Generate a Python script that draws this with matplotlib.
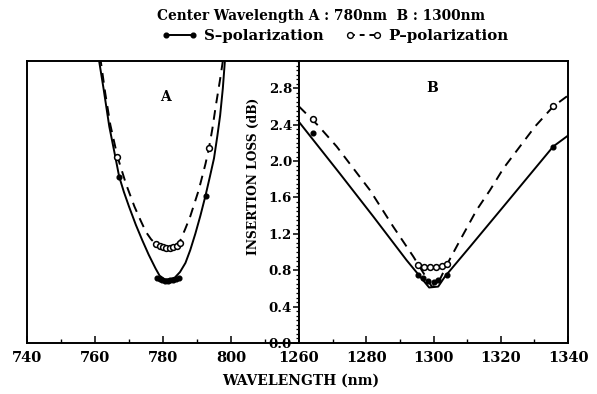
import matplotlib
matplotlib.use("Agg")
import matplotlib.pyplot as plt
from matplotlib.lines import Line2D
from matplotlib.ticker import MultipleLocator, FixedLocator

plt.rcParams['font.family'] = ['DejaVu Serif']
plt.rcParams['font.weight'] = 'bold'

# ---------------- Panel A (center 780 nm) ----------------
a_s_curve_x = [761.0, 762.5, 764.2, 765.8, 767.1, 768.5, 770.0, 772.0, 773.9, 775.8, 777.8,
               779.0, 780.5, 782.0, 783.5, 785.0, 786.6, 788.0, 789.5, 791.0, 792.5, 793.8,
               795.0, 796.0, 796.8, 797.6, 798.3]
a_s_curve_y = [3.15, 2.80, 2.38, 2.08, 1.83, 1.66, 1.50, 1.30, 1.13, 0.97, 0.82,
               0.74, 0.70, 0.70, 0.72, 0.78, 0.88, 1.02, 1.20, 1.40, 1.62, 1.83,
               2.03, 2.28, 2.50, 2.80, 3.15]
a_p_curve_x = [761.5, 763.0, 764.5, 766.6, 769.1, 771.6, 773.5, 775.0, 776.5, 777.8, 779.5,
               781.5, 783.5, 785.0, 786.5, 788.0, 790.5, 792.5, 793.5, 794.5, 795.5, 796.8, 797.8]
a_p_curve_y = [3.15, 2.75, 2.40, 2.05, 1.75, 1.50, 1.34, 1.22, 1.14, 1.09, 1.06,
               1.05, 1.07, 1.12, 1.25, 1.39, 1.68, 1.97, 2.14, 2.35, 2.60, 2.90, 3.15]
a_s_pts_x = [767.1, 778.2, 779.0, 779.8, 780.6, 781.4, 782.2, 783.0, 783.8, 784.6, 792.5]
a_s_pts_y = [1.83, 0.71, 0.70, 0.69, 0.68, 0.68, 0.69, 0.69, 0.70, 0.71, 1.62]
a_p_pts_x = [766.6, 778.0, 779.0, 780.0, 781.0, 782.0, 783.0, 784.0, 785.0, 793.5]
a_p_pts_y = [2.05, 1.09, 1.07, 1.05, 1.04, 1.04, 1.05, 1.07, 1.10, 2.14]

# ---------------- Panel B (center 1300 nm) ----------------
b_s_curve_x = [1260.0, 1272.2, 1282.1, 1292.0, 1298.7, 1301.4, 1303.4, 1310.9, 1320.8, 1335.6, 1340.0]
b_s_curve_y = [2.43, 1.86, 1.39, 0.91, 0.61, 0.62, 0.73, 1.06, 1.50, 2.16, 2.28]
b_p_curve_x = [1260.0, 1265.7, 1271.2, 1281.1, 1288.0, 1294.0, 1299.5, 1301.0, 1304.4, 1307.9,
               1312.8, 1316.8, 1320.8, 1325.7, 1330.2, 1335.6, 1340.0]
b_p_curve_y = [2.60, 2.39, 2.16, 1.68, 1.28, 0.95, 0.62, 0.63, 0.89, 1.13,
               1.46, 1.68, 1.92, 2.16, 2.38, 2.60, 2.72]
b_s_pts_x = [1264.3, 1295.3, 1297.0, 1298.3, 1300.0, 1301.4, 1303.9, 1335.6]
b_s_pts_y = [2.31, 0.75, 0.72, 0.68, 0.67, 0.69, 0.75, 2.16]
b_p_pts_x = [1264.3, 1295.5, 1297.2, 1299.0, 1300.7, 1302.4, 1304.1, 1335.6]
b_p_pts_y = [2.46, 0.86, 0.84, 0.83, 0.83, 0.85, 0.87, 2.60]

a_xticks = [740, 760, 780, 800, 820]
a_xticklabels = ['740', '760', '780', '800', '']
b_xticks = [1260, 1280, 1300, 1320, 1340]
b_xticklabels = ['1260', '1280', '1300', '1320', '1340']
yticks = [0.0, 0.4, 0.8, 1.2, 1.6, 2.0, 2.4, 2.8]

title_text = "Center Wavelength A : 780nm  B : 1300nm"
xlabel_text = "WAVELENGTH (nm)"
ylabel_text = "INSERTION LOSS (dB)"
legend_labels = ["S\u2013polarization", "P\u2013polarization"]

W, H = 597, 394
fig = plt.figure(figsize=(W / 100, H / 100), dpi=100)

def fx(px):
    return px / W

def fy(py):
    return 1 - py / H

ax_a = fig.add_axes([fx(27), fy(343), fx(299) - fx(27), fy(61) - fy(343)])
ax_b = fig.add_axes([fx(299), fy(343), fx(568) - fx(299), fy(61) - fy(343)])

dash = (0, (5.0, 3.6))
lw = 1.4

for ax, sx, sy, px_, py_, spx, spy, ppx, ppy in [
    (ax_a, a_s_curve_x, a_s_curve_y, a_p_curve_x, a_p_curve_y, a_s_pts_x, a_s_pts_y, a_p_pts_x, a_p_pts_y),
    (ax_b, b_s_curve_x, b_s_curve_y, b_p_curve_x, b_p_curve_y, b_s_pts_x, b_s_pts_y, b_p_pts_x, b_p_pts_y),
]:
    ax.plot(sx, sy, color='k', lw=lw, ls='-')
    ax.plot(px_, py_, color='k', lw=lw, ls=dash)
    ax.plot(spx, spy, ls='none', marker='o', ms=3.4, mfc='k', mec='k')
    ax.plot(ppx, ppy, ls='none', marker='o', ms=4.2, mfc='white', mec='k', mew=1.1)
    ax.set_ylim(0, 3.1)
    for sp in ax.spines.values():
        sp.set_linewidth(1.4)

ax_a.set_xlim(740, 820)
ax_b.set_xlim(1260, 1340)

ax_a.xaxis.set_major_locator(FixedLocator(a_xticks))
ax_a.set_xticklabels(a_xticklabels)
ax_a.xaxis.set_minor_locator(MultipleLocator(10))
ax_a.set_yticks([])
ax_a.tick_params(axis='x', which='major', direction='in', length=5, width=1.1, labelsize=10.5, pad=5.5)
ax_a.tick_params(axis='x', which='minor', direction='in', length=3, width=1.0)

ax_b.xaxis.set_major_locator(FixedLocator(b_xticks))
ax_b.set_xticklabels(b_xticklabels)
ax_b.xaxis.set_minor_locator(MultipleLocator(10))
ax_b.tick_params(axis='x', which='major', direction='in', length=5, width=1.1, labelsize=10.5, pad=5.5)
ax_b.tick_params(axis='x', which='minor', direction='in', length=3, width=1.0)
ax_b.set_yticks(yticks)
ax_b.set_yticklabels([f"{v:.1f}" for v in yticks])
ax_b.yaxis.set_minor_locator(MultipleLocator(0.05))
ax_b.tick_params(axis='y', which='major', direction='out', length=4, width=1.1, labelsize=9.6, pad=1)
ax_b.tick_params(axis='y', which='minor', direction='out', length=2, width=0.9)
ax_b.set_ylabel(ylabel_text, fontsize=8.8, fontweight='bold')
ax_b.yaxis.set_label_coords(-0.145, 0.59)

ax_a.text(780.6, 2.70, "A", ha='center', va='center', fontsize=10, fontweight='bold')
ax_b.text(1299.6, 2.80, "B", ha='center', va='center', fontsize=10, fontweight='bold')

fig.text(fx(301), fy(381), xlabel_text, ha='center', va='center', fontsize=10, fontweight='bold')
fig.text(fx(321), fy(16), title_text, ha='center', va='center', fontsize=9.9, fontweight='bold')

s_handle = Line2D([], [], color='k', ls='-', lw=lw, marker='o', ms=3.4, mfc='k', mec='k')
p_handle = Line2D([], [], color='k', ls=(0, (2.5, 2.5)), lw=lw, marker='o', ms=4.2, mfc='white', mec='k')
fig.legend([s_handle, p_handle], legend_labels,
           loc='center', bbox_to_anchor=(fx(335), fy(36)), ncol=2, frameon=False,
           numpoints=2, handlelength=2.4, handletextpad=0.4, columnspacing=1.5,
           prop={'family': 'DejaVu Serif', 'weight': 'bold', 'size': 10.8})

fig.savefig("out.png", dpi=100)
